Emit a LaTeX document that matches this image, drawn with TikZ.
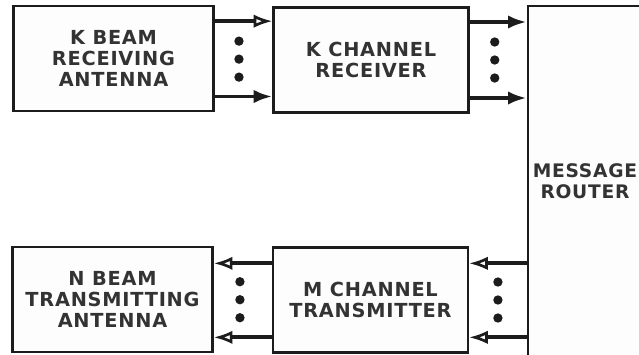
\documentclass[tikz,border=0pt]{standalone}
\usepackage{fontspec}
\setmainfont{DejaVu Sans}[LetterSpace=4]
\usetikzlibrary{arrows.meta,positioning,calc}
\definecolor{cInk}{HTML}{1C1C1C}
\definecolor{cPaper}{HTML}{FDFDFD}
\tikzset{
  >=Latex,
  blk/.style  ={draw=cInk,line width=1.9pt,fill=cPaper,align=center,
                font=\fontsize{14.5}{15.5}\selectfont\bfseries,text=cInk!90,inner sep=0pt},
  abox/.style ={blk,minimum width=150pt,minimum height=79pt},
  cbox/.style ={blk,minimum width=146pt,minimum height=79pt},
  dot/.style  ={circle,fill=cInk,inner sep=0pt,minimum size=7pt},
  ar/.style   ={-{Latex[length=14pt,width=10pt]},line width=2.8pt,cInk},
  aro/.style  ={-{Latex[open,length=14pt,width=10pt,line width=2pt]},line width=2.8pt,cInk},
}

\begin{document}
\begin{tikzpicture}[x=0.75pt,y=-0.75pt]
\clip (0,0) rectangle (639,354);
\fill[white] (0,0) rectangle (639,354);
% blocks
\node[abox] (kant) at (113.5,58.5) {K BEAM\\RECEIVING\\ANTENNA};
\node[cbox] (krx)  at (371,60)     {K CHANNEL\\RECEIVER};
\node[blk,minimum width=85.5pt,minimum height=262.5pt,
      font=\fontsize{14}{15.5}\selectfont\bfseries] (rtr) at (585,181) {MESSAGE\\ROUTER};
\node[abox] (nant) at (112.5,299.5) {N BEAM\\TRANSMITTING\\ANTENNA};
\node[cbox] (mtx)  at (370.5,300)   {M CHANNEL\\TRANSMITTER};
% receive side
\coordinate (ka) at ([yshift=28pt]kant.east);
\coordinate (kb) at ([yshift=-28.5pt]kant.east);
\coordinate (ra) at ([yshift=28.5pt]krx.east);
\coordinate (rb) at ([yshift=-28.5pt]krx.east);
\draw[aro] (ka) -- (ka -| krx.west);
\draw[ar]  (kb) -- (kb -| krx.west);
\draw[ar]  (ra) -- (ra -| rtr.west);
\draw[ar]  (rb) -- (rb -| rtr.west);
% transmit side
\coordinate (ma) at ([yshift=27.5pt]mtx.east);
\coordinate (mb) at ([yshift=-28pt]mtx.east);
\coordinate (ta) at ([yshift=27.5pt]mtx.west);
\coordinate (tb) at ([yshift=-28pt]mtx.west);
\draw[aro] (ma -| rtr.west) -- (ma);
\draw[aro] (mb -| rtr.west) -- (mb);
\draw[aro] (ta) -- (ta -| nant.east);
\draw[aro] (tb) -- (tb -| nant.east);
% dots
\foreach \i/\dy in {1/13.5pt,2/0pt,3/-13.5pt}{
  \node[dot] (dk\i) at ($(kant.east)!0.42!(krx.west)+(0,\dy)$) {};
  \node[dot] (dr\i) at ($(krx.east)!0.44!(rtr.west |- krx.east)+(0,\dy)$) {};
  \node[dot] (dt\i) at ($(nant.east)!0.45!(mtx.west)+(0,\dy)$) {};
  \node[dot] (dm\i) at ($(mtx.east)!0.5!(rtr.west |- mtx.east)+(0,\dy)$) {};
}
\end{tikzpicture}
\end{document}
